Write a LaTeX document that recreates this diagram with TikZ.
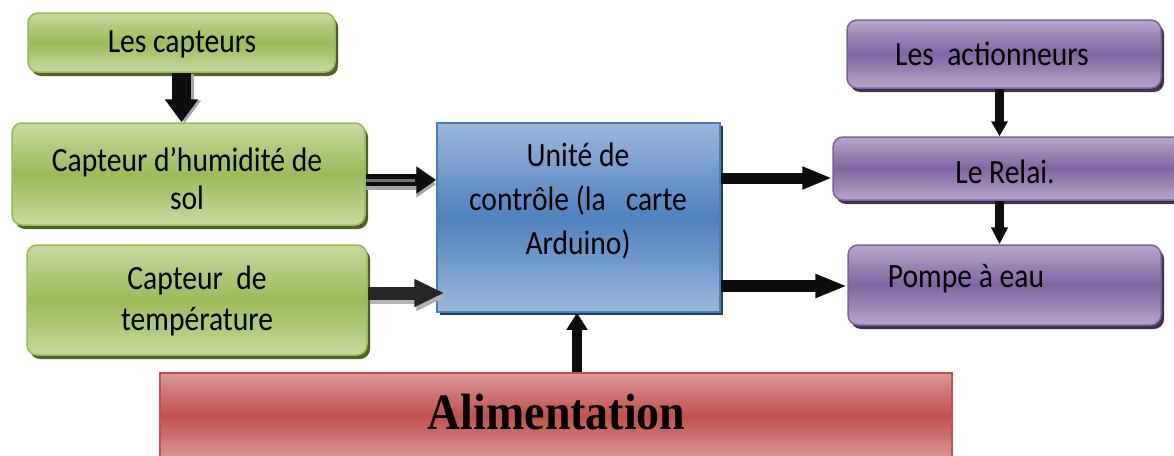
\documentclass[tikz,border=0pt]{standalone}
\usepackage{fontspec}
\setmainfont{Carlito}[FakeStretch=0.87]
\newfontfamily\alimfont{Liberation Serif}[FakeStretch=0.9]
\usetikzlibrary{arrows.meta,shadows}
\definecolor{gtop}{HTML}{C6D9A0}
\definecolor{gmid}{HTML}{9BBB59}
\definecolor{gline}{HTML}{98B954}
\definecolor{gshad}{HTML}{4F6228}
\definecolor{btop}{HTML}{9AB7DA}
\definecolor{bmid}{HTML}{4F81BD}
\definecolor{bline}{HTML}{4A7EBB}
\definecolor{bshad}{HTML}{243F60}
\definecolor{ptop}{HTML}{B7A6CB}
\definecolor{pmid}{HTML}{8064A2}
\definecolor{pline}{HTML}{7D60A0}
\definecolor{pshad}{HTML}{3F3151}
\definecolor{rtop}{HTML}{DC9896}
\definecolor{rmid}{HTML}{C0504D}
\definecolor{rline}{HTML}{C0504D}
\definecolor{arrk}{HTML}{0D0D0D}
\begin{document}
\begin{tikzpicture}[x=1pt,y=-1pt,
  box/.style={line width=1.5pt, inner sep=0pt},
  gbox/.style={box, rounded corners=10pt, draw=gline, top color=gtop, bottom color=gtop, middle color=gmid,
    drop shadow={shadow xshift=3pt, shadow yshift=-4pt, fill=gshad, opacity=1}},
  pbox/.style={box, rounded corners=10pt, draw=pline, top color=ptop, bottom color=ptop, middle color=pmid,
    drop shadow={shadow xshift=3pt, shadow yshift=-4pt, fill=pshad, opacity=1}},
  bbox/.style={box, draw=bline, top color=btop, bottom color=btop, middle color=bmid,
    drop shadow={shadow xshift=3pt, shadow yshift=-3pt, fill=bshad, opacity=1}},
  rbox/.style={box, draw=rline, top color=rtop, bottom color=rtop, middle color=rmid},
  txt/.style={inner sep=0pt, align=center, font=\fontsize{34}{40}\selectfont},
]
\useasboundingbox (0,0) rectangle (1174,455);

% boxes
\node[gbox, minimum width=307pt, minimum height=59pt] (cap) at (181.5,42.5) {};
\node[gbox, minimum width=353pt, minimum height=102pt] (hum) at (188.5,174) {};
\node[gbox, minimum width=340pt, minimum height=110pt] (temp) at (197,300) {};
\node[bbox, minimum width=283pt, minimum height=189pt] (ctrl) at (578.5,217.5) {};
\node[pbox, minimum width=314pt, minimum height=68pt] (act) at (1004,54) {};
\node[pbox, minimum width=357pt, minimum height=63pt] (relai) at (1011.5,168.5) {};
\node[pbox, minimum width=313pt, minimum height=80pt] (pompe) at (1004.5,285) {};
\node[rbox, minimum width=792pt, minimum height=86pt] (alim) at (556,416) {};

% texts
\node[txt] (capT) at (182,44) {Les capteurs};
\node[txt, font=\fontsize{34}{38}\selectfont] (humT) at (187,179) {Capteur d’humidité de\\sol};
\node[txt, font=\fontsize{34}{41}\selectfont] (tempT) at (197,301) {Capteur\ \ de\\température};
\node[txt, font=\fontsize{34}{44}\selectfont] (ctrlT) at (578,201) {Unité de\\contrôle (la\ \ \ carte\\Arduino)};
\node[txt] (actT) at (992,54) {Les\ \ actionneurs};
\node[txt] (relaiT) at (1005,172) {Le Relai.};
\node[txt] (pompeT) at (966,279) {Pompe à eau};
\node[inner sep=0pt, font=\alimfont\bfseries\fontsize{51}{60}\selectfont] (alimT) at (556.5,412) {Alimentation};

% helper coordinates
\coordinate (yH) at (0,180);
\coordinate (yT) at (0,293);
\coordinate (yR) at (0,178);
\coordinate (yP) at (0,286);
\coordinate (xA) at (577,0);
\coordinate (xB) at (999.5,0);

% left arrows (with shadows)
\draw[black!35, line width=19pt, -{Triangle[length=23pt,width=32pt]}, transform canvas={shift={(3pt,-1pt)}}]
  (cap.south) -- (cap.south |- hum.north);
\draw[arrk, line width=19pt, -{Triangle[length=23pt,width=32pt]}]
  (cap.south) -- (cap.south |- hum.north);

\draw[black!35, line width=12pt, -{Triangle[length=20pt,width=26pt]}, transform canvas={shift={(0pt,-4pt)}}]
  (hum.east |- yH) -- (ctrl.west |- yH);
\draw[arrk, line width=12pt, -{Triangle[length=20pt,width=26pt]}]
  (hum.east |- yH) -- (ctrl.west |- yH);
\draw[black!55, line width=3pt, shorten >=21pt]
  (hum.east |- yH) -- (ctrl.west |- yH);

\draw[black!30, line width=13pt, -{Triangle[length=30pt,width=26pt]}, transform canvas={shift={(2pt,-4pt)}}]
  (temp.east |- yT) -- ([xshift=8pt]ctrl.west |- yT);
\draw[black!85, line width=13pt, -{Triangle[length=30pt,width=26pt]}]
  (temp.east |- yT) -- ([xshift=8pt]ctrl.west |- yT);

% right arrows
\draw[arrk, line width=11pt, -{Triangle[length=30pt,width=21pt]}]
  (ctrl.east |- yR) -- (relai.west |- yR);
\draw[arrk, line width=12pt, -{Triangle[length=32pt,width=22pt]}]
  (ctrl.east |- yP) -- (pompe.west |- yP);
\draw[arrk, line width=10pt, -{Triangle[length=17pt,width=20pt]}]
  (alim.north -| xA) -- (ctrl.south -| xA);
\draw[arrk, line width=9pt, -{Triangle[length=15pt,width=16pt]}]
  (act.south -| xB) -- (relai.north -| xB);
\draw[arrk, line width=9pt, -{Triangle[length=17pt,width=16pt]}]
  (relai.south -| xB) -- (pompe.north -| xB);
\end{tikzpicture}
\end{document}
